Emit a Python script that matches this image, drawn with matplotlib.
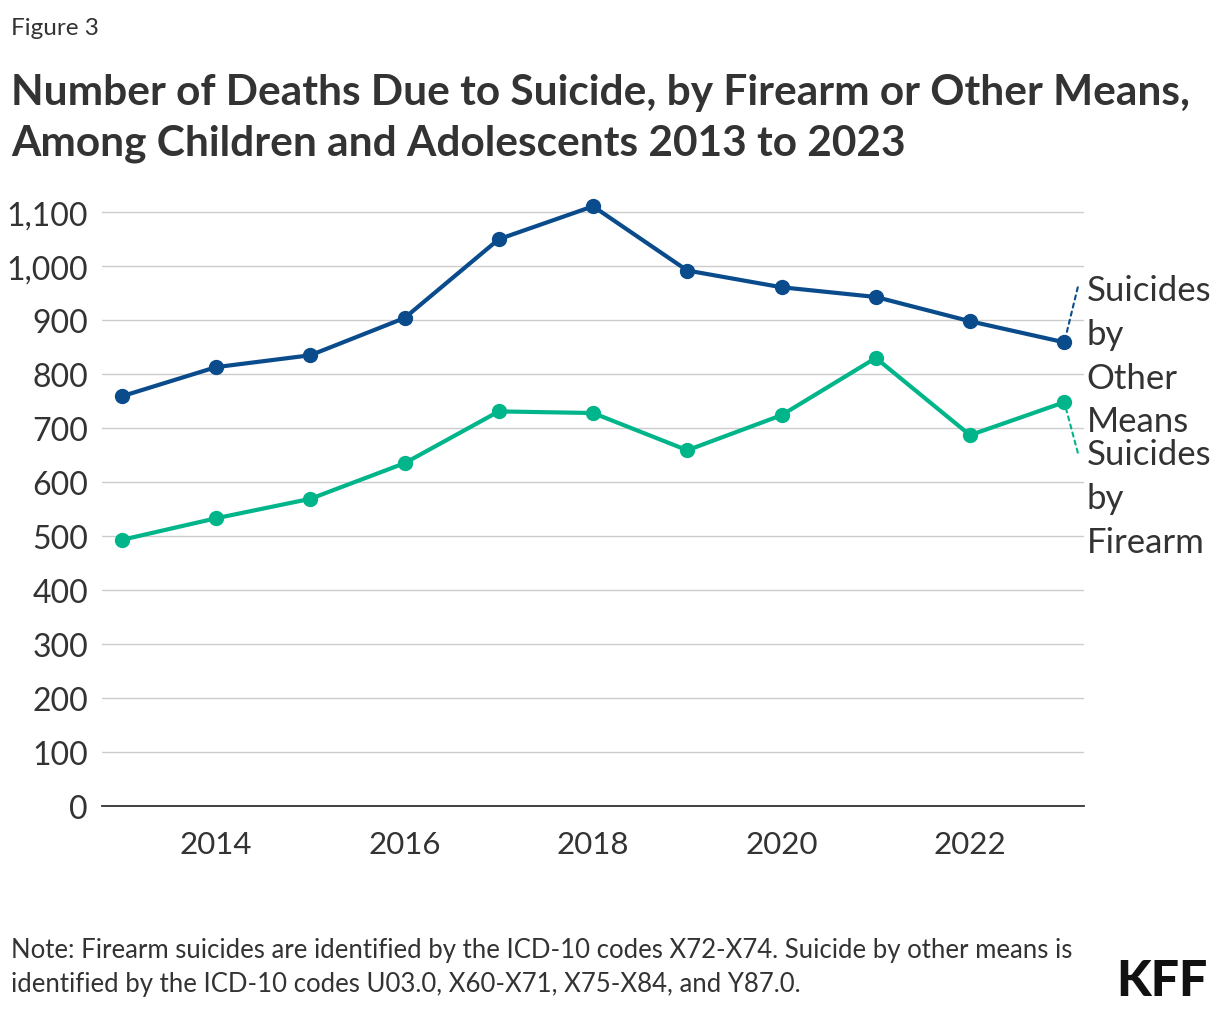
import matplotlib.pyplot as plt

plt.rcParams['font.family'] = ['Lato', 'DejaVu Sans']

# ---- data ----
years = [2013, 2014, 2015, 2016, 2017, 2018, 2019, 2020, 2021, 2022, 2023]
other_means = [759, 813, 835, 904, 1050, 1111, 992, 961, 943, 898, 859]
firearm = [493, 533, 569, 635, 731, 728, 659, 724, 830, 687, 748]
yticks = [0, 100, 200, 300, 400, 500, 600, 700, 800, 900, 1000, 1100]
xticks = [2014, 2016, 2018, 2020, 2022]

BLUE = "#0a4b8c"
GREEN = "#00b58a"
TXT = "#333333"

fig = plt.figure(figsize=(12.2, 10.12), dpi=100)
ax = fig.add_axes([0.0836, 0.2026, 0.805, 0.6027])

ax.plot(years, other_means, color=BLUE, lw=3, marker='o', ms=10, zorder=3)
ax.plot(years, firearm, color=GREEN, lw=3, marker='o', ms=10, zorder=3)

ax.set_xlim(2012.79, 2023.21)
ax.set_ylim(0, 1130)
ax.set_yticks(yticks)
ax.set_yticklabels([f"{v:,}" for v in yticks])
ax.set_xticks(xticks)
ax.set_xticklabels([str(x) for x in xticks])
ax.tick_params(axis='y', length=0, labelsize=23, labelcolor=TXT, pad=10)
ax.tick_params(axis='x', length=0, labelsize=22.5, labelcolor=TXT, pad=17)
ax.grid(axis='y', color="#cccccc", lw=1)
ax.set_axisbelow(True)
for s in ["top", "right", "left"]:
    ax.spines[s].set_visible(False)
ax.spines["bottom"].set_color("#333333")
ax.spines["bottom"].set_linewidth(1.3)

# direct labels with dotted leaders
ax.annotate("Suicides\nby\nOther\nMeans", xy=(years[-1], other_means[-1]),
            xytext=(16, 49), textcoords="offset points", fontsize=25,
            color=TXT, va="top", ha="left", linespacing=1.45,
            arrowprops=dict(arrowstyle="-", ls=(0, (2, 2)), color=BLUE,
                            lw=1.5, shrinkA=0, shrinkB=4,
                            relpos=(-0.07, 0.92)),
            annotation_clip=False)
ax.annotate("Suicides\nby\nFirearm", xy=(years[-1], firearm[-1]),
            xytext=(16, -26), textcoords="offset points", fontsize=25,
            color=TXT, va="top", ha="left", linespacing=1.45,
            arrowprops=dict(arrowstyle="-", ls=(0, (2, 2)), color=GREEN,
                            lw=1.5, shrinkA=0, shrinkB=4,
                            relpos=(-0.07, 0.88)),
            annotation_clip=False)

fig.text(0.009, 0.972, "Figure 3", fontsize=17.5, color=TXT, va="center")
fig.text(0.009, 0.883, "Number of Deaths Due to Suicide, by Firearm or Other Means,\n"
         "Among Children and Adolescents 2013 to 2023",
         fontsize=30.5, fontweight="bold", color=TXT, va="center",
         linespacing=1.4)
fig.text(0.009, 0.044, "Note: Firearm suicides are identified by the ICD-10 codes X72-X74. "
         "Suicide by other means is\nidentified by the ICD-10 codes U03.0, X60-X71, "
         "X75-X84, and Y87.0.",
         fontsize=18.5, color=TXT, va="center", linespacing=1.42)
fig.text(0.99, 0.03, "KFF", fontsize=36, fontweight="black", color="#111111",
         ha="right", va="center")

fig.savefig("out.png", dpi=100)
